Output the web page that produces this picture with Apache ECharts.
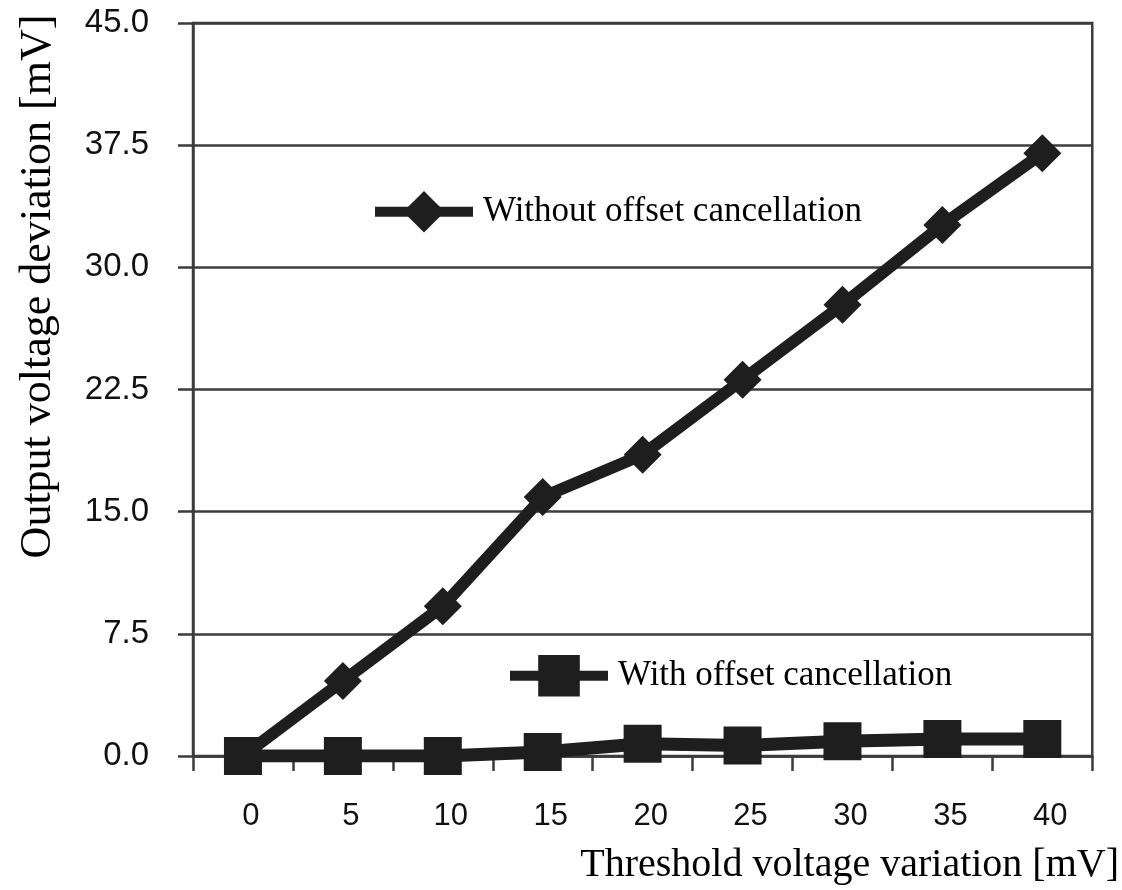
<!DOCTYPE html>
<html>
<head>
<meta charset="utf-8">
<script src="https://cdn.jsdelivr.net/npm/echarts@6/dist/echarts.min.js"></script>
<style>html,body{margin:0;padding:0;background:#fff}#c{width:1122px;height:890px}</style>
</head>
<body>
<div id="c"></div>
<script>
const categories = ['0','5','10','15','20','25','30','35','40'];
const withoutOffset = [0, 4.6, 9.2, 15.9, 18.5, 23.1, 27.7, 32.6, 37.0];
const withOffset = [0, 0, 0, 0.25, 0.75, 0.65, 0.9, 1.05, 1.05];
const yTicks = [0, 7.5, 15, 22.5, 30, 37.5, 45];
const nameWithout = 'Without offset cancellation';
const nameWith = 'With offset cancellation';
const xTitle = 'Threshold voltage variation [mV]';
const yTitle = 'Output voltage deviation [mV]';

const chart = echarts.init(document.getElementById('c'));
const ink = '#1e1e1e';
const gridCol = '#3c3c3c';
const legendCommon = {
  itemWidth: 98, itemHeight: 52,
  lineStyle: {width: 10, color: ink},
  textStyle: {fontFamily: 'Liberation Serif', fontSize: 35, color: '#000', padding: [0,0,0,5]}
};
chart.setOption({
  animation: false,
  backgroundColor: '#fff',
  grid: {left: 193, right: 25, top: 23, bottom: 133, show: true, borderColor: gridCol, borderWidth: 2.5},
  legend: [
    Object.assign({data: [nameWithout], left: 365, top: 186}, legendCommon),
    Object.assign({data: [nameWith], left: 500, top: 650}, legendCommon)
  ],
  xAxis: {
    type: 'category', data: categories, boundaryGap: true,
    axisLine: {show: true, lineStyle: {color: gridCol, width: 2.5}},
    axisTick: {show: true, inside: false, length: 15, lineStyle: {color: gridCol, width: 2.5}},
    axisLabel: {fontFamily: 'Liberation Sans', fontSize: 31, color: '#111', margin: 45, padding: [0,0,0,16]},
    name: xTitle, nameLocation: 'middle', nameGap: 89,
    nameTextStyle: {fontFamily: 'Liberation Serif', fontSize: 40, color: '#000', padding: [0,0,0,414]}
  },
  yAxis: {
    type: 'value', min: 0, max: 45, interval: 7.5,
    axisLine: {show: true, lineStyle: {color: gridCol, width: 2.5}},
    axisTick: {show: true, length: 15, lineStyle: {color: gridCol, width: 2.5}},
    splitLine: {show: true, lineStyle: {color: gridCol, width: 2.5}},
    axisLabel: {fontFamily: 'Liberation Sans', fontSize: 33, color: '#111', margin: 44,
      formatter: v => yTicks.includes(v) ? v.toFixed(1) : ''},
    name: yTitle, nameLocation: 'middle', nameGap: 133,
    nameTextStyle: {fontFamily: 'Liberation Serif', fontSize: 44, color: '#000', padding: [0,0,0,206]}
  },
  series: [
    {name: nameWithout, type: 'line', data: withoutOffset, symbol: 'diamond', symbolSize: 38,
     lineStyle: {color: ink, width: 12}, itemStyle: {color: ink}, z: 3},
    {name: nameWith, type: 'line', data: withOffset, symbol: 'rect', symbolSize: 38,
     lineStyle: {color: ink, width: 13}, itemStyle: {color: ink}, z: 4}
  ]
});
</script>
</body>
</html>
